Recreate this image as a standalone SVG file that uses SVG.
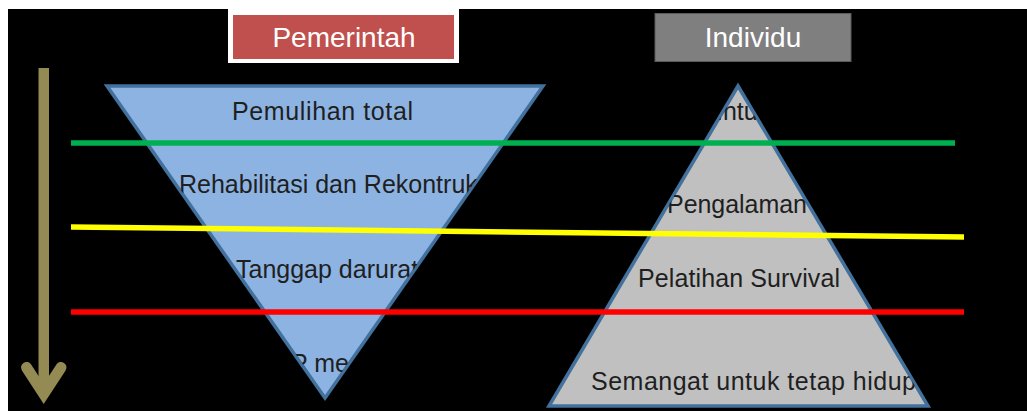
<svg xmlns="http://www.w3.org/2000/svg" width="1027" height="411" viewBox="0 0 1027 411">
  <defs>
    <clipPath id="clip-inv">
      <polygon points="109,87.5 541,87.5 325,396"/>
    </clipPath>
    <clipPath id="clip-pyr">
      <polygon points="738,88 926,404.5 551,404.5"/>
    </clipPath>
  </defs>
  <style>
    .body { font-family: "Liberation Sans", Arial, sans-serif; font-size: 25px; fill: #1f1f1f; }
    .head { font-family: "Liberation Sans", Arial, sans-serif; font-size: 28px; fill: #ffffff; text-anchor: middle; }
    .tri { stroke: #41719c; stroke-width: 3.5; stroke-linejoin: miter; }
    .band { fill: none; stroke-width: 5.5; stroke-linecap: butt; }
  </style>
  <rect x="0" y="0" width="1027" height="411" fill="#ffffff"/>
  <rect x="8" y="9" width="1019" height="402" fill="#000000"/>

  <g id="arrow">
    <rect x="38.5" y="68" width="10.5" height="326" fill="#948a54"/>
    <polyline points="26.5,367.5 43.7,394 61,367.5" fill="none" stroke="#948a54" stroke-width="11" stroke-linecap="round" stroke-linejoin="miter"/>
  </g>

  <g id="label-pemerintah">
    <rect x="228" y="9" width="231" height="54" fill="#ffffff"/>
    <rect x="233" y="15" width="221" height="44" fill="#c0504d"/>
    <text class="head" x="344" y="47">Pemerintah</text>
  </g>

  <g id="label-individu">
    <rect x="655" y="13.5" width="196" height="48" fill="#7f7f7f" stroke="#5a5a5a" stroke-width="1"/>
    <text class="head" x="753" y="47">Individu</text>
  </g>

  <g id="pemerintah-triangle">
    <polygon class="tri" points="107,86 543,86 325,398" fill="#8db3e2"/>
    <g clip-path="url(#clip-inv)">
      <text class="body" x="232" y="120" textLength="181">Pemulihan total</text>
      <text class="body" x="179" y="193">Rehabilitasi dan Rekontruksi</text>
      <text class="body" x="236" y="278">Tanggap darurat</text>
      <text class="body" x="291" y="372">P me</text>
    </g>
  </g>

  <g id="individu-pyramid">
    <polygon class="tri" points="738,86 928,406 549,406" fill="#c0c0c0"/>
    <g clip-path="url(#clip-pyr)">
      <text class="body" x="716" y="120">Intuisi</text>
      <text class="body" x="667" y="213" textLength="140">Pengalaman</text>
      <text class="body" x="638" y="287" textLength="202">Pelatihan Survival</text>
      <text class="body" x="591" y="390" textLength="325">Semangat untuk tetap hidup</text>
    </g>
  </g>

  <g id="connectors">
    <line class="band" x1="71" y1="143" x2="955" y2="143" stroke="#00b050"/>
    <line class="band" x1="71" y1="227" x2="964" y2="237" stroke="#ffff00"/>
    <line class="band" x1="71" y1="312" x2="964" y2="312" stroke="#ff0000"/>
  </g>
</svg>
